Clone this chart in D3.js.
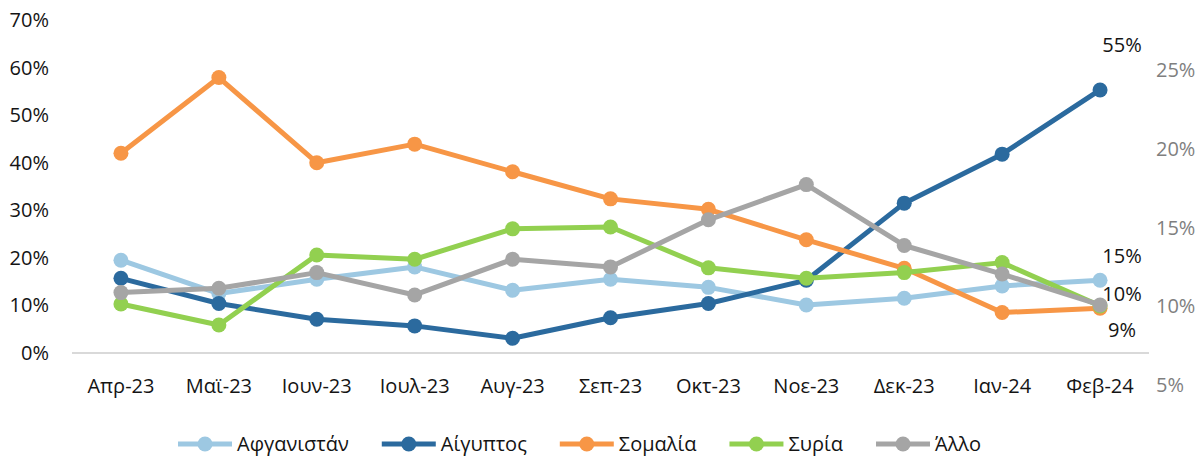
<!DOCTYPE html>
<html>
<head>
<meta charset="utf-8">
<script src="https://cdn.jsdelivr.net/npm/d3@7"></script>
<style>
  body { margin: 0; background: #fff; }
  #chart-container { width: 1200px; height: 456px; }
  text { font-family: 'Open Sans', 'Noto Sans', sans-serif; }
</style>
</head>
<body>
<div id="chart-container"></div>
<script>
const months = ['Απρ-23', 'Μαϊ-23', 'Ιουν-23', 'Ιουλ-23', 'Αυγ-23', 'Σεπ-23', 'Οκτ-23', 'Νοε-23', 'Δεκ-23', 'Ιαν-24', 'Φεβ-24']
const seriesNames = ['Αφγανιστάν', 'Αίγυπτος', 'Σομαλία', 'Συρία', 'Άλλο']
const afghanistan = [0.195, 0.125, 0.155, 0.181, 0.132, 0.155, 0.138, 0.101, 0.115, 0.141, 0.153]
const egypt = [0.157, 0.104, 0.071, 0.057, 0.031, 0.074, 0.104, 0.153, 0.315, 0.418, 0.553]
const somalia = [0.420, 0.579, 0.400, 0.439, 0.381, 0.324, 0.302, 0.238, 0.178, 0.085, 0.094]
const syria = [0.103, 0.059, 0.206, 0.197, 0.261, 0.265, 0.179, 0.157, 0.169, 0.190, 0.099]
const other = [0.127, 0.136, 0.169, 0.122, 0.197, 0.181, 0.280, 0.354, 0.226, 0.166, 0.101]
const leftTicks = [0, 0.1, 0.2, 0.3, 0.4, 0.5, 0.6, 0.7]
const rightTicks = [0.05, 0.1, 0.15, 0.2, 0.25]
// last-point labels: series index and shown text
const endLabels = [
  { s: 1, text: '55%' },
  { s: 0, text: '15%' },
  { s: 4, text: '10%' },
  { s: 2, text: '9%' }
]

const colors = ['#9dc8e2', '#2b6a9e', '#f79646', '#92d050', '#a5a5a5']
const labelOffsets = { 1: -45, 0: -24, 4: -11, 2: 22 }
const allValues = [afghanistan, egypt, somalia, syria, other]

const width = 1200
const height = 456
const fontSize = 20
const textColor = '#141414'

const x = d3.scaleBand()
  .domain(months)
  .range([72, 1149])

const y = d3.scaleLinear()
  .domain([0, 0.7])
  .range([353, 20])

const yRight = d3.scaleLinear()
  .domain([0.05, 0.25])
  .range([385, 70])

const cx = d => x(d) + x.bandwidth() / 2

const svg = d3.select('#chart-container').append('svg')
  .attr('width', width)
  .attr('height', height)

// baseline
svg.append('line')
  .attr('x1', 72).attr('x2', 1149)
  .attr('y1', y(0)).attr('y2', y(0))
  .attr('stroke', '#d9d9d9')
  .attr('stroke-width', 2)

const fmt = d3.format('.0%')

svg.append('g')
  .selectAll('text')
  .data(leftTicks)
  .join('text')
  .attr('x', 49)
  .attr('y', d => y(d))
  .attr('dy', '0.35em')
  .attr('text-anchor', 'end')
  .attr('font-size', fontSize)
  .attr('fill', textColor)
  .text(fmt)

svg.append('g')
  .selectAll('text')
  .data(rightTicks)
  .join('text')
  .attr('x', 1156)
  .attr('y', d => yRight(d))
  .attr('dy', '0.35em')
  .attr('font-size', fontSize)
  .attr('fill', '#7f7f7f')
  .text(fmt)

svg.append('g')
  .selectAll('text')
  .data(months)
  .join('text')
  .attr('x', cx)
  .attr('y', 386)
  .attr('dy', '0.35em')
  .attr('text-anchor', 'middle')
  .attr('font-size', fontSize)
  .attr('fill', textColor)
  .text(d => d)

const line = d3.line()
  .x((d, i) => cx(months[i]))
  .y(d => y(d))

allValues.forEach((vals, s) => {
  const g = svg.append('g')
  g.append('path')
    .datum(vals)
    .attr('d', line)
    .attr('fill', 'none')
    .attr('stroke', colors[s])
    .attr('stroke-width', 5)
    .attr('stroke-linejoin', 'round')
  g.selectAll('circle')
    .data(vals)
    .join('circle')
    .attr('cx', (d, i) => cx(months[i]))
    .attr('cy', d => y(d))
    .attr('r', 7.5)
    .attr('fill', colors[s])
})

const last = months.length - 1
svg.append('g')
  .selectAll('text')
  .data(endLabels)
  .join('text')
  .attr('x', cx(months[last]) + 22)
  .attr('y', d => y(allValues[d.s][last]) + labelOffsets[d.s])
  .attr('dy', '0.35em')
  .attr('text-anchor', 'middle')
  .attr('font-size', fontSize)
  .attr('fill', textColor)
  .text(d => d.text)

// legend
const legend = svg.append('g')
let lx = 178
seriesNames.forEach((name, s) => {
  const item = legend.append('g')
  item.append('line')
    .attr('x1', lx).attr('x2', lx + 54)
    .attr('y1', 444).attr('y2', 444)
    .attr('stroke', colors[s])
    .attr('stroke-width', 5)
  item.append('circle')
    .attr('cx', lx + 27).attr('cy', 444)
    .attr('r', 7.5)
    .attr('fill', colors[s])
  const t = item.append('text')
    .attr('x', lx + 59)
    .attr('y', 444)
    .attr('dy', '0.35em')
    .attr('font-size', fontSize)
    .attr('fill', textColor)
    .text(name)
  lx += 59 + t.node().getComputedTextLength() + 33
})
</script>
</body>
</html>
